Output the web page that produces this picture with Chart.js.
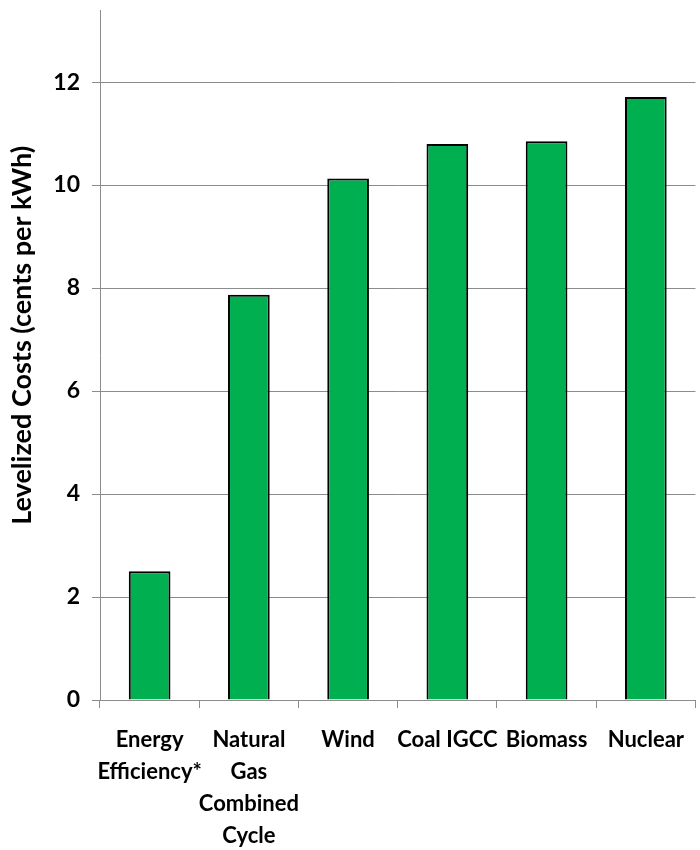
<!DOCTYPE html>
<html>
<head>
<meta charset="utf-8">
<script src="https://cdn.jsdelivr.net/npm/chart.js@4"></script>
<style>
  html, body { margin: 0; padding: 0; background: #fff; }
  #wrap { width: 700px; height: 850px; }
</style>
</head>
<body>
<div id="wrap"><canvas id="costChart" width="700" height="850"></canvas></div>
<script>
const categories = [
  ["Energy", "Efficiency*"],
  ["Natural", "Gas", "Combined", "Cycle"],
  "Wind",
  "Coal IGCC",
  "Biomass",
  "Nuclear",
];
const costs = [2.5, 7.87, 10.13, 10.8, 10.85, 11.71];
const yTicks = [0, 2, 4, 6, 8, 10, 12];

const FONT = "Lato, 'Open Sans', sans-serif";
const GRID = "#8c8c8c";

new Chart(document.getElementById("costChart"), {
  type: "bar",
  data: {
    labels: categories,
    datasets: [{
      data: costs,
      backgroundColor: "#00b050",
      borderColor: "#000",
      borderWidth: 2,
      barPercentage: 0.42,
      categoryPercentage: 1.0,
    }],
  },
  options: {
    responsive: false,
    animation: false,
    layout: { padding: { top: 10, right: 0, left: 0, bottom: 0 } },
    plugins: { legend: { display: false }, tooltip: { enabled: false } },
    scales: {
      x: {
        grid: { drawOnChartArea: false, color: GRID, tickLength: 8, offset: true },
        border: { color: GRID, width: 1 },
        ticks: {
          color: "#000",
          font: { family: FONT, size: 22, weight: "bold", lineHeight: 1.45 },
          padding: 16,
          maxRotation: 0,
          autoSkip: false,
        },
        afterFit: s => { s.height = 150; },
      },
      y: {
        min: 0,
        max: 13.4,
        afterBuildTicks: s => { s.ticks = yTicks.map(v => ({ value: v })); },
        grid: { color: GRID, tickLength: 8 },
        border: { color: GRID, width: 1 },
        ticks: {
          color: "#000",
          font: { family: FONT, size: 23, weight: "bold" },
          padding: 12,
        },
        title: {
          display: true,
          text: "\u00a0\u00a0\u00a0\u00a0\u00a0\u00a0Levelized Costs (cents per kWh)",
          color: "#000",
          font: { family: FONT, size: 27, weight: "bold" },
          padding: { top: 6, bottom: 0 },
        },
        afterFit: s => {
          s.width = 100;
          s.paddingTop = 0;
          s.paddingBottom = 0;
        },
      },
    },
  },
});
</script>
</body>
</html>
